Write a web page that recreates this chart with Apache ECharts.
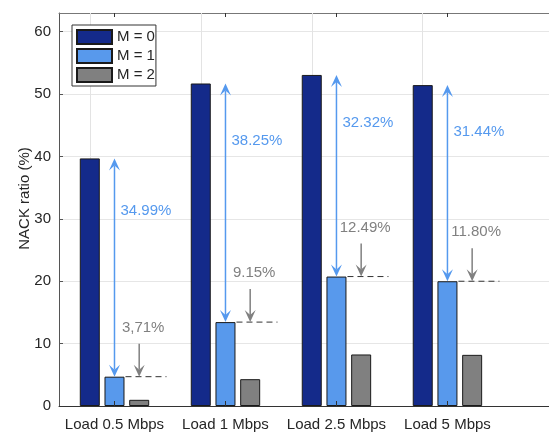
<!DOCTYPE html>
<html>
<head>
<meta charset="utf-8">
<script src="https://cdn.jsdelivr.net/npm/echarts@6/dist/echarts.min.js"></script>
<style>
  html, body { margin: 0; padding: 0; background: #fff; }
  #chart { width: 549px; height: 432px; }
</style>
</head>
<body>
<div id="chart"></div>
<script>
// NACK ratio per offered load, for three values of M
const categories = ['Load 0.5 Mbps', 'Load 1 Mbps', 'Load 2.5 Mbps', 'Load 5 Mbps'];
const seriesNames = ['M = 0', 'M = 1', 'M = 2'];
const m0Values = [39.69, 51.70, 53.07, 51.44];
const m1Values = [4.70, 13.45, 20.75, 20.00];
const m2Values = [0.99, 4.30, 8.26, 8.20];
// reductions annotated on the chart
const dropM0toM1 = ['34.99%', '38.25%', '32.32%', '31.44%'];
const dropM1toM2 = ['3,71%', '9.15%', '12.49%', '11.80%'];

const FONT = '"Liberation Sans", Arial, Helvetica, sans-serif';
const BAR_COLORS = ['#142a8a', '#5899ec', '#808080'];
const BLUE = '#5599ee';
const GREY = '#808080';
const BAR_W = 20;
const BAR_GAP = 0.235;
const BAR_PITCH = BAR_W * (1 + BAR_GAP);
const X_MIN = 0.5, X_MAX = 4.915, Y_MAX = 63;

const positions = categories.map((_, i) => i + 1);
const toPairs = vals => vals.map((v, i) => [positions[i], v]);

// concave ("stealth") arrow head; dir = -1 points up, +1 points down
function arrowHead(x, tipY, dir, color) {
  const L = 12, W = 11, notch = 7;
  return {
    type: 'polygon',
    shape: { points: [[x, tipY], [x - W / 2, tipY - dir * L], [x, tipY - dir * notch], [x + W / 2, tipY - dir * L]] },
    style: { fill: color }
  };
}

function renderNotes(params, api) {
  const x = api.value(0), hi = api.value(1), lo = api.value(2), i = api.value(3);
  const top = api.coord([x, hi]);
  const low = api.coord([x, lo]);
  const cx = top[0];
  const labelY = api.coord([x, lo + 0.76 * (hi - lo)])[1];
  const gx = cx + BAR_PITCH;
  const arrowTop = low[1] - 33;
  return {
    type: 'group',
    children: [
      { type: 'line', shape: { x1: cx, y1: top[1] + 7, x2: cx, y2: low[1] - 7 }, style: { stroke: BLUE, lineWidth: 1.5 } },
      arrowHead(cx, top[1], -1, BLUE),
      arrowHead(cx, low[1], 1, BLUE),
      { type: 'text', x: cx + 6, y: labelY,
        style: { text: dropM0toM1[i], fill: BLUE, fontSize: 15, fontFamily: FONT, align: 'left', verticalAlign: 'middle' } },
      { type: 'line', shape: { x1: cx + BAR_W / 2 + 1, y1: low[1], x2: cx + BAR_W / 2 + 42, y2: low[1] },
        style: { stroke: '#333', lineWidth: 1, lineDash: [6, 4] } },
      { type: 'line', shape: { x1: gx, y1: arrowTop, x2: gx, y2: low[1] - 7 }, style: { stroke: GREY, lineWidth: 1.5 } },
      arrowHead(gx, low[1], 1, GREY),
      { type: 'text', x: gx + 4, y: arrowTop - 16,
        style: { text: dropM1toM2[i], fill: GREY, fontSize: 15, fontFamily: FONT, align: 'center', verticalAlign: 'middle' } }
    ]
  };
}

const barSeries = [m0Values, m1Values, m2Values].map((vals, k) => ({
  name: seriesNames[k],
  type: 'bar',
  xAxisIndex: 0,
  yAxisIndex: 0,
  data: toPairs(vals),
  barWidth: BAR_W,
  barGap: (BAR_GAP * 100) + '%',
  itemStyle: { color: BAR_COLORS[k], borderColor: '#1a1a1a', borderWidth: 1 },
  emphasis: { disabled: true },
  z: 2
}));

// vertical grid lines at each load group
barSeries[0].markLine = {
  silent: true,
  z: 1,
  symbol: 'none',
  label: { show: false },
  lineStyle: { color: '#e3e3e3', type: 'solid', width: 1 },
  data: positions.map(p => ({ xAxis: p }))
};

const chart = echarts.init(document.getElementById('chart'), null, { renderer: 'canvas' });
chart.setOption({
  animation: false,
  backgroundColor: '#fff',
  textStyle: { fontFamily: FONT },
  grid: { left: 59, top: 13, right: 0, bottom: 25, containLabel: false },
  legend: {
    data: seriesNames,
    orient: 'vertical',
    left: 72,
    top: 25,
    itemWidth: 35,
    itemHeight: 14,
    itemGap: 3,
    padding: [4, 1, 3, 4],
    borderColor: '#333',
    borderWidth: 1,
    backgroundColor: '#fff',
    icon: 'rect',
    selectedMode: false,
    textStyle: { fontSize: 15, color: '#262626', fontFamily: FONT }
  },
  xAxis: [
    {
      type: 'value',
      position: 'bottom',
      min: X_MIN,
      max: X_MAX,
      z: 3,
      axisLine: { show: true, lineStyle: { color: '#333', width: 1 } },
      axisTick: { show: true, inside: true, length: 5, customValues: positions, lineStyle: { color: '#333' } },
      axisLabel: {
        show: true,
        customValues: positions,
        margin: 11,
        fontSize: 15,
        color: '#262626',
        fontFamily: FONT,
        formatter: v => categories[Math.round(v) - 1] || ''
      },
      splitLine: { show: false }
    },
    {
      type: 'value',
      position: 'top',
      min: X_MIN,
      max: X_MAX,
      axisLine: { show: true, lineStyle: { color: '#777', width: 1 } },
      axisTick: { show: true, inside: true, length: 4, customValues: positions, lineStyle: { color: '#333' } },
      axisLabel: { show: false },
      splitLine: { show: false }
    }
  ],
  yAxis: {
    type: 'value',
    min: 0,
    max: Y_MAX,
    interval: 10,
    name: 'NACK ratio (%)',
    nameLocation: 'middle',
    nameGap: 27,
    nameMoveOverlap: false,
    nameTextStyle: { fontSize: 15, color: '#262626', fontFamily: FONT, padding: [0, 0, 0, 22] },
    axisLine: { show: true, lineStyle: { color: '#555', width: 1 } },
    axisTick: { show: true, inside: true, length: 4, lineStyle: { color: '#555' } },
    axisLabel: { fontSize: 15, color: '#262626', margin: 8, showMaxLabel: false, fontFamily: FONT },
    splitLine: { show: true, lineStyle: { color: '#e6e6e6', width: 1 } }
  },
  series: barSeries.concat([{
    type: 'custom',
    name: 'notes',
    xAxisIndex: 0,
    yAxisIndex: 0,
    clip: false,
    silent: true,
    z: 4,
    encode: { x: 0, y: [1, 2] },
    data: positions.map((p, i) => [p, m0Values[i], m1Values[i], i]),
    renderItem: renderNotes
  }])
});
</script>
</body>
</html>
